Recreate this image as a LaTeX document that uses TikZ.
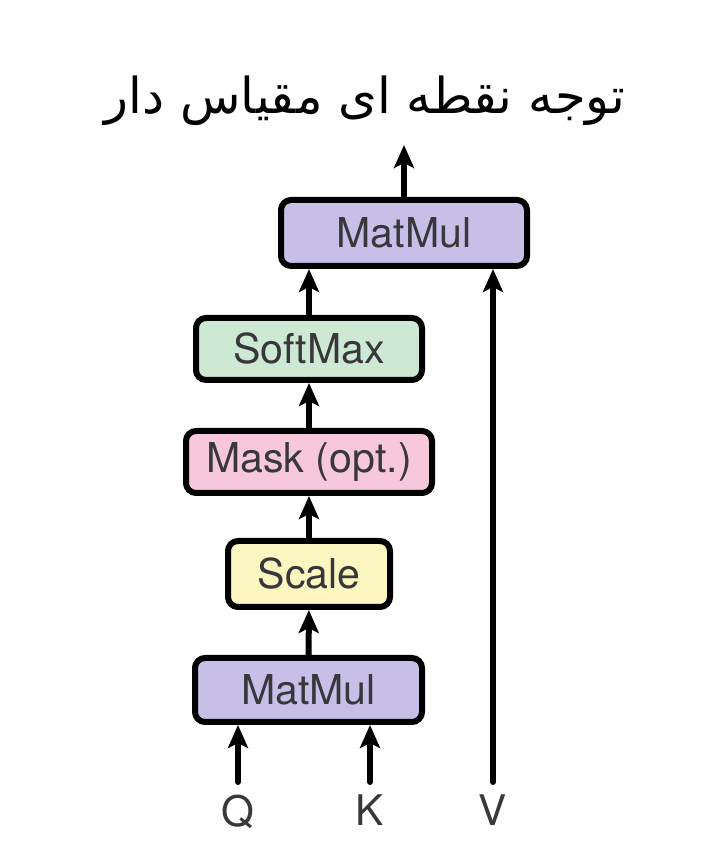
\documentclass[tikz,border=0pt]{standalone}
\usepackage{fontspec}
\setmainfont{TeX Gyre Heros}
\newfontfamily\farsifont[Script=Arabic]{DejaVu Sans}
\TeXXeTstate=1
\usetikzlibrary{arrows.meta}
\definecolor{matmulfill}{RGB}{199,191,232}
\definecolor{softfill}{RGB}{205,233,212}
\definecolor{maskfill}{RGB}{247,200,219}
\definecolor{scalefill}{RGB}{252,246,193}
\definecolor{textgray}{RGB}{55,55,60}
\begin{document}
\begin{tikzpicture}[>={Stealth[length=4.6mm,width=4mm,inset=1mm]}, line width=1.2mm, line join=round, line cap=round,
	font=\fontsize{23.4}{27}\selectfont,
	opbox/.style={draw=black, rounded corners=2mm, text=textgray, inner sep=0pt, minimum height=1.28cm},
	qkv/.style={anchor=north, inner sep=2.6mm, outer sep=0pt, text=textgray, font=\fontsize{24}{28}\selectfont}]
	\useasboundingbox[fill=white] (0,0) rectangle (14,17.18);
	%\draw[color=gray!50,dashed] (0,0) grid (14,17);
	\node (title) at (7.3,14.9) [anchor=base, font=\fontsize{28.2}{32}\farsifont] {\beginR توجه نقطه ای مقیاس دار\endR};
	% boxes from bottom to top
	\node[opbox, fill=matmulfill, minimum width=4.54cm] (matmulB) at (6.17,3.38) {MatMul};
	\node[opbox, fill=scalefill, minimum width=3.24cm, minimum height=1.32cm] (scale) at (6.18,5.70) {Scale};
	\node[opbox, fill=maskfill, minimum width=4.92cm, minimum height=1.24cm] (mask) at (6.18,7.94) {Mask (opt.)};
	\node[opbox, fill=softfill, minimum width=4.52cm, minimum height=1.24cm] (softmax) at (6.18,10.2) {SoftMax};
	\node[opbox, fill=matmulfill, minimum width=4.92cm, minimum height=1.32cm] (matmulT) at (8.08,12.52) {MatMul};
	\coordinate (out) at (8.08,14.28);
	% inputs
	\node[qkv] (q) at (4.76,1.54) {Q};
	\node[qkv] (k) at (7.40,1.54) {K};
	\node[qkv] (v) at (9.86,1.54) {V};
	% arrows
	\draw[->] (q.north)--(q.north |- matmulB.south);
	\draw[->] (k.north)--(k.north |- matmulB.south);
	\draw[->] (v.north)--(v.north |- matmulT.south);
	\draw[->] (matmulB)--(scale);
	\draw[->] (scale)--(mask);
	\draw[->] (mask)--(softmax);
	\draw[->] (softmax.north)--(softmax.north |- matmulT.south);
	\draw[->] (matmulT.north)--(out);
\end{tikzpicture}
\end{document}
